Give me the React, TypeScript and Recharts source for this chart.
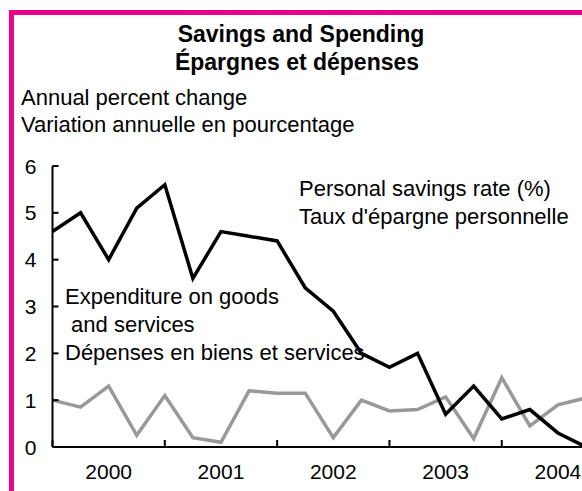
import React from 'react';
import { LineChart, Line, XAxis, YAxis } from 'recharts';

// quarterly observations, 2000 Q1 to 2004 Q4
const years = ['2000', '2001', '2002', '2003', '2004'];
const quarterNames = ['Q1', 'Q2', 'Q3', 'Q4'];
const savingsRate = [4.6, 5.0, 4.0, 5.1, 5.6, 3.6, 4.6, 4.5, 4.4, 3.4, 2.9, 2.0, 1.7, 2.0, 0.7, 1.3, 0.6, 0.8, 0.3, 0.0];
const expenditure = [1.0, 0.85, 1.3, 0.25, 1.1, 0.2, 0.1, 1.2, 1.15, 1.15, 0.2, 1.0, 0.77, 0.8, 1.07, 0.18, 1.48, 0.45, 0.9, 1.05];
const yTicks = [0, 1, 2, 3, 4, 5, 6];

const quarters = years.flatMap((y) => quarterNames.map((q) => `${y} ${q}`));
const data = quarters.map((q, i) => ({ q, savings: savingsRate[i], spending: expenditure[i] }));

const FONT = '"Liberation Sans", Arial, sans-serif';
const MAGENTA = '#EC008C';

const YTick = (props: any) => {
  const { x, y, payload } = props;
  return (
    <g>
      <line x1={x} x2={x + 6} y1={y} y2={y} stroke="#000" strokeWidth={2} />
      <text x={x - 16} y={y + 7.5} textAnchor="end" fontSize={21} fontFamily={FONT} fill="#000">
        {payload.value}
      </text>
    </g>
  );
};

const XTick = (props: any) => {
  const { x, y, payload } = props;
  const [year, q] = String(payload.value).split(' ');
  if (q === 'Q1') {
    return <line x1={x} x2={x} y1={y} y2={y - 7} stroke="#000" strokeWidth={2} />;
  }
  if (q === 'Q3') {
    return (
      <text x={x} y={y + 31.5} textAnchor="middle" fontSize={21} fontFamily={FONT} fill="#000">
        {year}
      </text>
    );
  }
  return <g />;
};

const txt = (top: number, left: number, s: string, extra: React.CSSProperties = {}) => (
  <div
    style={{
      position: 'absolute',
      top,
      left,
      fontFamily: FONT,
      fontSize: 22,
      lineHeight: '28px',
      whiteSpace: 'pre',
      color: '#000',
      ...extra,
    }}
  >
    {s}
  </div>
);

export default function App() {
  return (
    <div style={{ position: 'fixed', left: 0, top: 0, width: 582, height: 491, overflow: 'hidden', background: '#fff' }}>
      <div
        style={{
          position: 'absolute',
          left: 9,
          top: 10,
          width: 620,
          height: 520,
          borderTop: `5px solid ${MAGENTA}`,
          borderLeft: `5px solid ${MAGENTA}`,
        }}
      />
      <div style={{ position: 'absolute', left: 0, top: 0 }}>
        <LineChart width={600} height={491} data={data} margin={{ top: 166, right: 14, bottom: 0, left: 0 }}>
          <XAxis
            dataKey="q"
            interval={0}
            height={44}
            tickLine={false}
            tickSize={0}
            tickMargin={0}
            axisLine={{ stroke: '#000', strokeWidth: 2 }}
            tick={<XTick />}
          />
          <YAxis
            type="number"
            domain={[0, 6]}
            ticks={yTicks}
            width={52.5}
            tickLine={false}
            tickSize={0}
            tickMargin={0}
            axisLine={{ stroke: '#000', strokeWidth: 2 }}
            tick={<YTick />}
          />
          <Line
            dataKey="spending"
            stroke="#999999"
            strokeWidth={3.5}
            dot={false}
            strokeLinejoin="miter"
            isAnimationActive={false}
          />
          <Line
            dataKey="savings"
            stroke="#000000"
            strokeWidth={3.5}
            dot={false}
            strokeLinejoin="miter"
            isAnimationActive={false}
          />
        </LineChart>
      </div>
      {txt(20, 0, 'Savings and Spending', { width: 602, textAlign: 'center', fontWeight: 'bold', fontSize: 23 })}
      {txt(48, 0, 'Épargnes et dépenses', { width: 594, textAlign: 'center', fontWeight: 'bold', fontSize: 23 })}
      {txt(84, 21, 'Annual percent change')}
      {txt(111, 21, 'Variation annuelle en pourcentage')}
      {txt(175, 299, 'Personal savings rate (%)')}
      {txt(203, 299, "Taux d'épargne personnelle")}
      {txt(283, 65, 'Expenditure on goods')}
      {txt(311, 65, ' and services')}
      {txt(339, 65, 'Dépenses en biens et services')}
    </div>
  );
}
